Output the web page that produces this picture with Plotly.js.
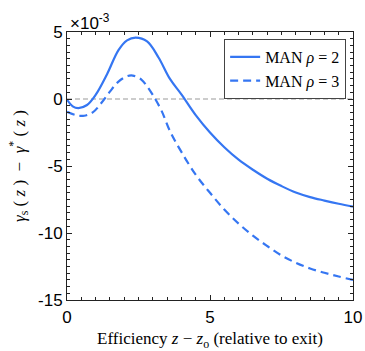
<!DOCTYPE html>
<html>
<head>
<meta charset="utf-8">
<script src="https://cdn.plot.ly/plotly-3.0.1.min.js"></script>
<style>html,body{margin:0;padding:0;background:#fff;}#chart{width:365px;height:351px;}</style>
</head>
<body>
<div id="chart"></div>
<script>
// values in units of 1e-3
const xRho2 = [0, 0.2, 0.4, 0.7, 1.0, 1.4, 1.8, 2.1, 2.4, 2.8, 3.2, 3.6, 4.0, 4.5, 5.0, 5.5, 6.0, 6.5, 7.0, 7.5, 8.0, 8.5, 9.0, 9.5, 10];
const yRho2 = [-0.05, -0.55, -0.68, -0.45, 0.3, 1.85, 3.65, 4.38, 4.58, 4.3, 3.1, 1.5, 0.35, -1.2, -2.5, -3.6, -4.53, -5.28, -5.95, -6.5, -6.98, -7.32, -7.58, -7.82, -8.03];
const xRho3 = [0, 0.3, 0.6, 0.9, 1.2, 1.5, 1.8, 2.1, 2.3, 2.6, 2.8, 3.0, 3.3, 3.6, 4.0, 4.5, 5.0, 5.5, 6.0, 6.5, 7.0, 7.5, 8.0, 8.5, 9.0, 9.5, 10];
const yRho3 = [-0.95, -1.2, -1.25, -1.0, -0.3, 0.55, 1.3, 1.7, 1.75, 1.45, 0.95, 0.3, -0.85, -2.4, -3.95, -5.65, -7.0, -8.25, -9.3, -10.2, -10.97, -11.68, -12.22, -12.65, -12.97, -13.25, -13.5];
const yTickVals = [-15, -10, -5, 0, 5];
const yTickText = ['-15', '-10', '-5', '0', '5'];
const xTickVals = [0, 5, 10];
const xTickText = ['0', '5', '10'];
const names = ['MAN <i>ρ</i> = 2', 'MAN <i>ρ</i> = 3'];
const refLineY = 0;

const blue = '#3576f2';
const serif = '"Liberation Serif", "Times New Roman", Times, serif';
const sans = '"Liberation Sans", Arial, Helvetica, sans-serif';

const traces = [
  {x: xRho2, y: yRho2, name: names[0], mode: 'lines', line: {color: blue, width: 2.2, shape: 'spline', smoothing: 1}},
  {x: xRho3, y: yRho3, name: names[1], mode: 'lines', line: {color: blue, width: 2.2, dash: '8px,5px', shape: 'spline', smoothing: 1}}
];

const axCommon = {
  showgrid: false, zeroline: false, showline: true, linecolor: '#222', linewidth: 1,
  mirror: 'allticks', ticks: 'inside', ticklen: 5, tickcolor: '#222', tickwidth: 1,
  tickfont: {family: sans, size: 17, color: '#000'}
};

const layout = {
  width: 365, height: 351,
  margin: {l: 67, r: 12, t: 32, b: 51},
  paper_bgcolor: '#fff', plot_bgcolor: '#fff',
  showlegend: true,
  xaxis: Object.assign({}, axCommon, {
    range: [0, 10], tickmode: 'array', tickvals: xTickVals, ticktext: xTickText,
    ticklabelstandoff: 2,
    minor: {dtick: 0.5, ticks: 'inside', ticklen: 3, tickcolor: '#222'},
    title: {text: 'Efficiency <i>z</i> − <i>z</i><sub>o</sub> (relative to exit)', font: {family: serif, size: 17, color: '#000'}, standoff: 12}
  }),
  yaxis: Object.assign({}, axCommon, {
    range: [-15, 5], tickmode: 'array', tickvals: yTickVals, ticktext: yTickText,
    minor: {dtick: 0.5, ticks: 'inside', ticklen: 3, tickcolor: '#222'},
    title: {text: '<i>γ</i><sub>s</sub> ( <i>z</i> )  −  <i>γ</i><sup>*</sup> ( <i>z</i> )', font: {family: serif, size: 17, color: '#000'}, standoff: 8}
  }),
  legend: {
    x: 0.976, y: 0.974, xanchor: 'right', yanchor: 'top',
    bgcolor: '#fff', bordercolor: '#444', borderwidth: 1,
    font: {family: serif, size: 16, color: '#000'},
    tracegroupgap: 0, itemwidth: 30
  },
  shapes: [{type: 'line', xref: 'paper', x0: 0, x1: 1, yref: 'y', y0: refLineY, y1: refLineY,
    line: {color: '#9a9a9a', width: 1.2, dash: '5px,3px'}, layer: 'below'}],
  annotations: [{
    xref: 'paper', yref: 'paper', x: 0.005, y: 0.99, xanchor: 'left', yanchor: 'bottom',
    text: '×10<sup>-3</sup>', showarrow: false,
    font: {family: sans, size: 17, color: '#000'}
  }]
};

Plotly.newPlot('chart', traces, layout, {displayModeBar: false, staticPlot: true});
</script>
</body>
</html>
